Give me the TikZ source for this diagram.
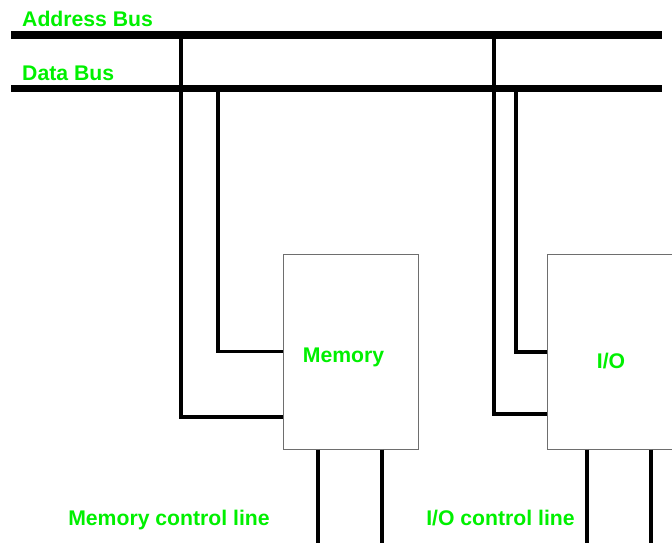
\documentclass[tikz,border=0pt]{standalone}
\usepackage{fontspec}
\setmainfont{Liberation Sans}
\usetikzlibrary{positioning}
\definecolor{lbgreen}{RGB}{0,240,0}
\definecolor{boxgray}{RGB}{110,110,110}

\begin{document}
\begin{tikzpicture}[x=1pt,y=-1pt,
  bus/.style={line width=7.5pt},
  wire/.style={line width=3.2pt},
  unit/.style={draw=boxgray,line width=1pt,fill=white,minimum width=135pt,minimum height=195pt,inner sep=0pt},
  lbl/.style={text=lbgreen,font=\fontsize{21.2}{25}\selectfont\bfseries,inner sep=0pt}]
\useasboundingbox (0,0) rectangle (672,543);
% buses
\coordinate (ab-l) at (11,35);  \coordinate (ab-r) at (662,35);
\coordinate (db-l) at (11,88.5);\coordinate (db-r) at (662,88.5);
\draw[bus] (ab-l) -- (ab-r);
\draw[bus] (db-l) -- (db-r);
\node[lbl,anchor=base west] (ablbl) at (22,27) {Address Bus};
\node[lbl,anchor=base west] (dblbl) at (22,80.5) {Data Bus};
% units
\node[unit] (mem) at (350.5,351.5) {};
\node[unit,minimum width=128pt] (io) at (611,351.5) {};
\node[lbl,anchor=base] (memlbl) at (343.5,362) {Memory};
\node[lbl,anchor=base] (iolbl) at (611,368) {I/O};
% taps on the buses
\coordinate (am) at (181,35);  \coordinate (dm) at (218,88.5);
\coordinate (ai) at (494,35);  \coordinate (di) at (516,88.5);
\draw[wire] (am) |- ([yshift=-65.5pt]mem.west);
\draw[wire] (dm) |- ([yshift=0pt]mem.west);
\draw[wire] (ai) |- ([yshift=-62.5pt]io.west);
\draw[wire] (di) |- ([yshift=-0.5pt]io.west);
% control lines
\coordinate (mc1) at (318,543); \coordinate (mc2) at (382,543);
\coordinate (ic1) at (587,543); \coordinate (ic2) at (651,543);
\draw[wire] (mem.south -| mc1) -- (mc1);
\draw[wire] (mem.south -| mc2) -- (mc2);
\draw[wire] (io.south -| ic1) -- (ic1);
\draw[wire] (io.south -| ic2) -- (ic2);
\node[lbl,anchor=base] (mclbl) at (169,525) {Memory control line};
\node[lbl,anchor=base] (iclbl) at (500.5,525) {I/O control line};
\end{tikzpicture}
\end{document}
